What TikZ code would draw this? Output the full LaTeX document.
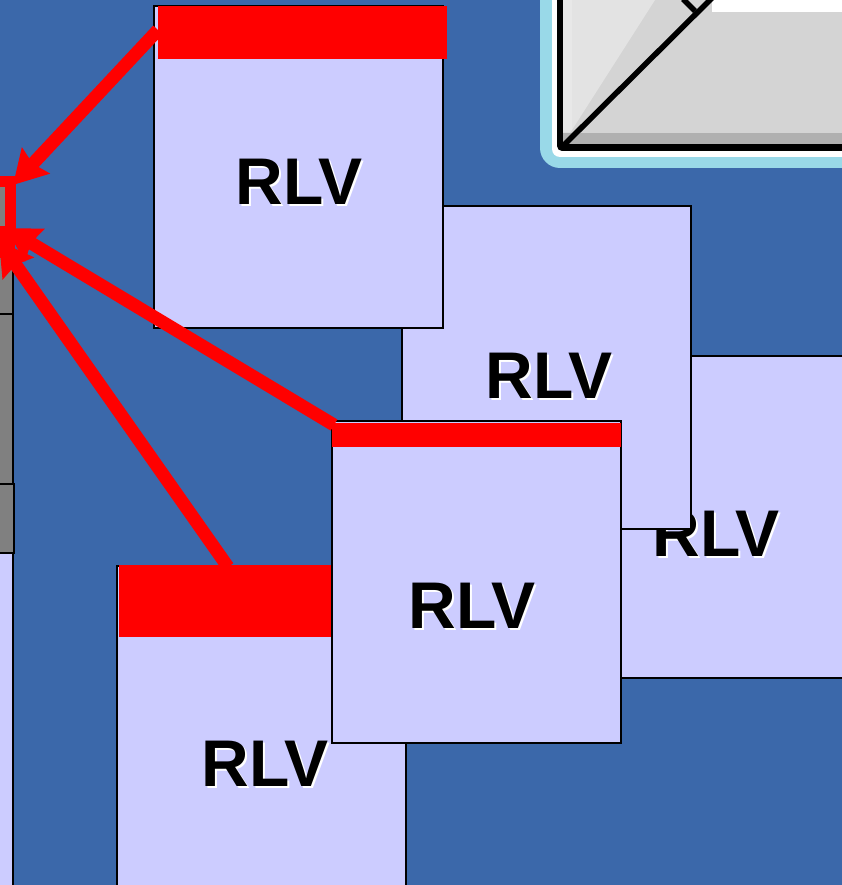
\documentclass[tikz,border=0pt]{standalone}
\usepackage{fontspec}
\setmainfont{Liberation Sans}
\usetikzlibrary{arrows.meta}
\definecolor{slideblue}{HTML}{3B68AA}
\definecolor{boxlav}{HTML}{CCCCFF}
\definecolor{framecyan}{HTML}{99D9E8}
\tikzset{>={Stealth[length=33pt,width=37pt,inset=4pt]}}
\tikzset{rlvbox/.style={draw=black,line width=2pt,fill=boxlav,anchor=north west,inner sep=0pt,minimum width=289pt,minimum height=322pt}}
\tikzset{redbar/.style={fill=red,anchor=north west,inner sep=0pt}}
\tikzset{rlvtext/.style={font=\bfseries\fontsize{66}{66}\selectfont,inner sep=0pt,black}}
\tikzset{rlvshadow/.style={rlvtext,white,xshift=2pt,yshift=-2pt}}
\tikzset{redarrow/.style={->,red,line width=13pt}}
\tikzset{graybox/.style={draw=black,line width=2pt,fill=gray,anchor=north west,inner sep=0pt}}
\begin{document}
\begin{tikzpicture}[x=1pt,y=-1pt]
\useasboundingbox (0,0) rectangle (842,885);
\fill[slideblue] (0,0) rectangle (842,885);
% window in the corner
\fill[framecyan,rounded corners=20pt] (540,-40) rectangle (880,168);
\fill[white,rounded corners=8pt] (552,-40) rectangle (880,157);
\fill[black,rounded corners=5pt] (557,-40) rectangle (880,151);
\fill[white] (563,-40) rectangle (842,144);
\fill[black!17] (563,0) rectangle (712,144);
\fill[black!17] (563,12) rectangle (842,144);
\fill[black!31] (563,133) rectangle (842,144);
\fill[black!11] (563,0) -- (655,0) -- (563,144) -- cycle;
\fill[black!9] (563,0) rectangle (572,130);
\fill[black!31] (563,144) -- (576,133) -- (563,133) -- cycle;
\coordinate (wina) at (563,146);
\coordinate (winb) at (716,-6);
\coordinate (winc) at (683,-1);
\coordinate (wind) at (695,11);
\draw[line width=5.5pt] (wina) -- (winb);
\draw[line width=5.5pt] (winc) -- (wind);
% strip at the left edge
\node[graybox,minimum width=29pt,minimum height=130pt] (gray1) at (-17,183) {};
\node[graybox,minimum width=29pt,minimum height=170pt] (gray2) at (-17,313) {};
\node[graybox,minimum width=30pt,minimum height=69pt] (gray3) at (-17,483) {};
\node[rlvbox,minimum width=29pt,minimum height=340pt] (left) at (-17,552) {};
% boxes
\node[rlvbox] (c) at (569.5,354.5) {};
\node[rlvshadow] at (716,534) {RLV};
\node[rlvtext] at (716,534) {RLV};
\node[rlvbox] (b) at (401,205.5) {};
\node[rlvshadow] at (549,376) {RLV};
\node[rlvtext] at (549,376) {RLV};
\node[rlvbox] (a) at (153,5) {};
\node[redbar,minimum width=289pt,minimum height=53pt] (abar) at (158,6) {};
\node[rlvshadow] at (299,182) {RLV};
\node[rlvtext] at (299,182) {RLV};
\node[rlvbox] (e) at (116,565) {};
\node[redbar,minimum width=288pt,minimum height=72pt] (ebar) at (119,565) {};
\node[rlvshadow] at (265,764) {RLV};
\node[rlvtext] at (265,764) {RLV};
\node[rlvbox] (d) at (331,420) {};
\node[redbar,minimum width=289pt,minimum height=24pt] (dbar) at (332,423) {};
\node[rlvshadow] at (472,606) {RLV};
\node[rlvtext] at (472,606) {RLV};
% red square and arrows
\coordinate (sqa) at (-5,182);
\coordinate (sqb) at (10.5,182);
\coordinate (sqc) at (10.5,232);
\coordinate (tipa) at (13,185);
\coordinate (tipb) at (6,228);
\coordinate (tipc) at (-1,241);
\coordinate (starta) at (158,30);
\coordinate (startb) at (334,425);
\coordinate (startc) at (228,567);
\draw[red,line width=11pt] (sqa) -- (sqb) -- (sqc);
\fill[red] (-2,226) rectangle (15,258);
\draw[redarrow] (starta) -- (tipa);
\draw[redarrow] (startb) -- (tipb);
\draw[redarrow] (startc) -- (tipc);
\end{tikzpicture}
\end{document}
